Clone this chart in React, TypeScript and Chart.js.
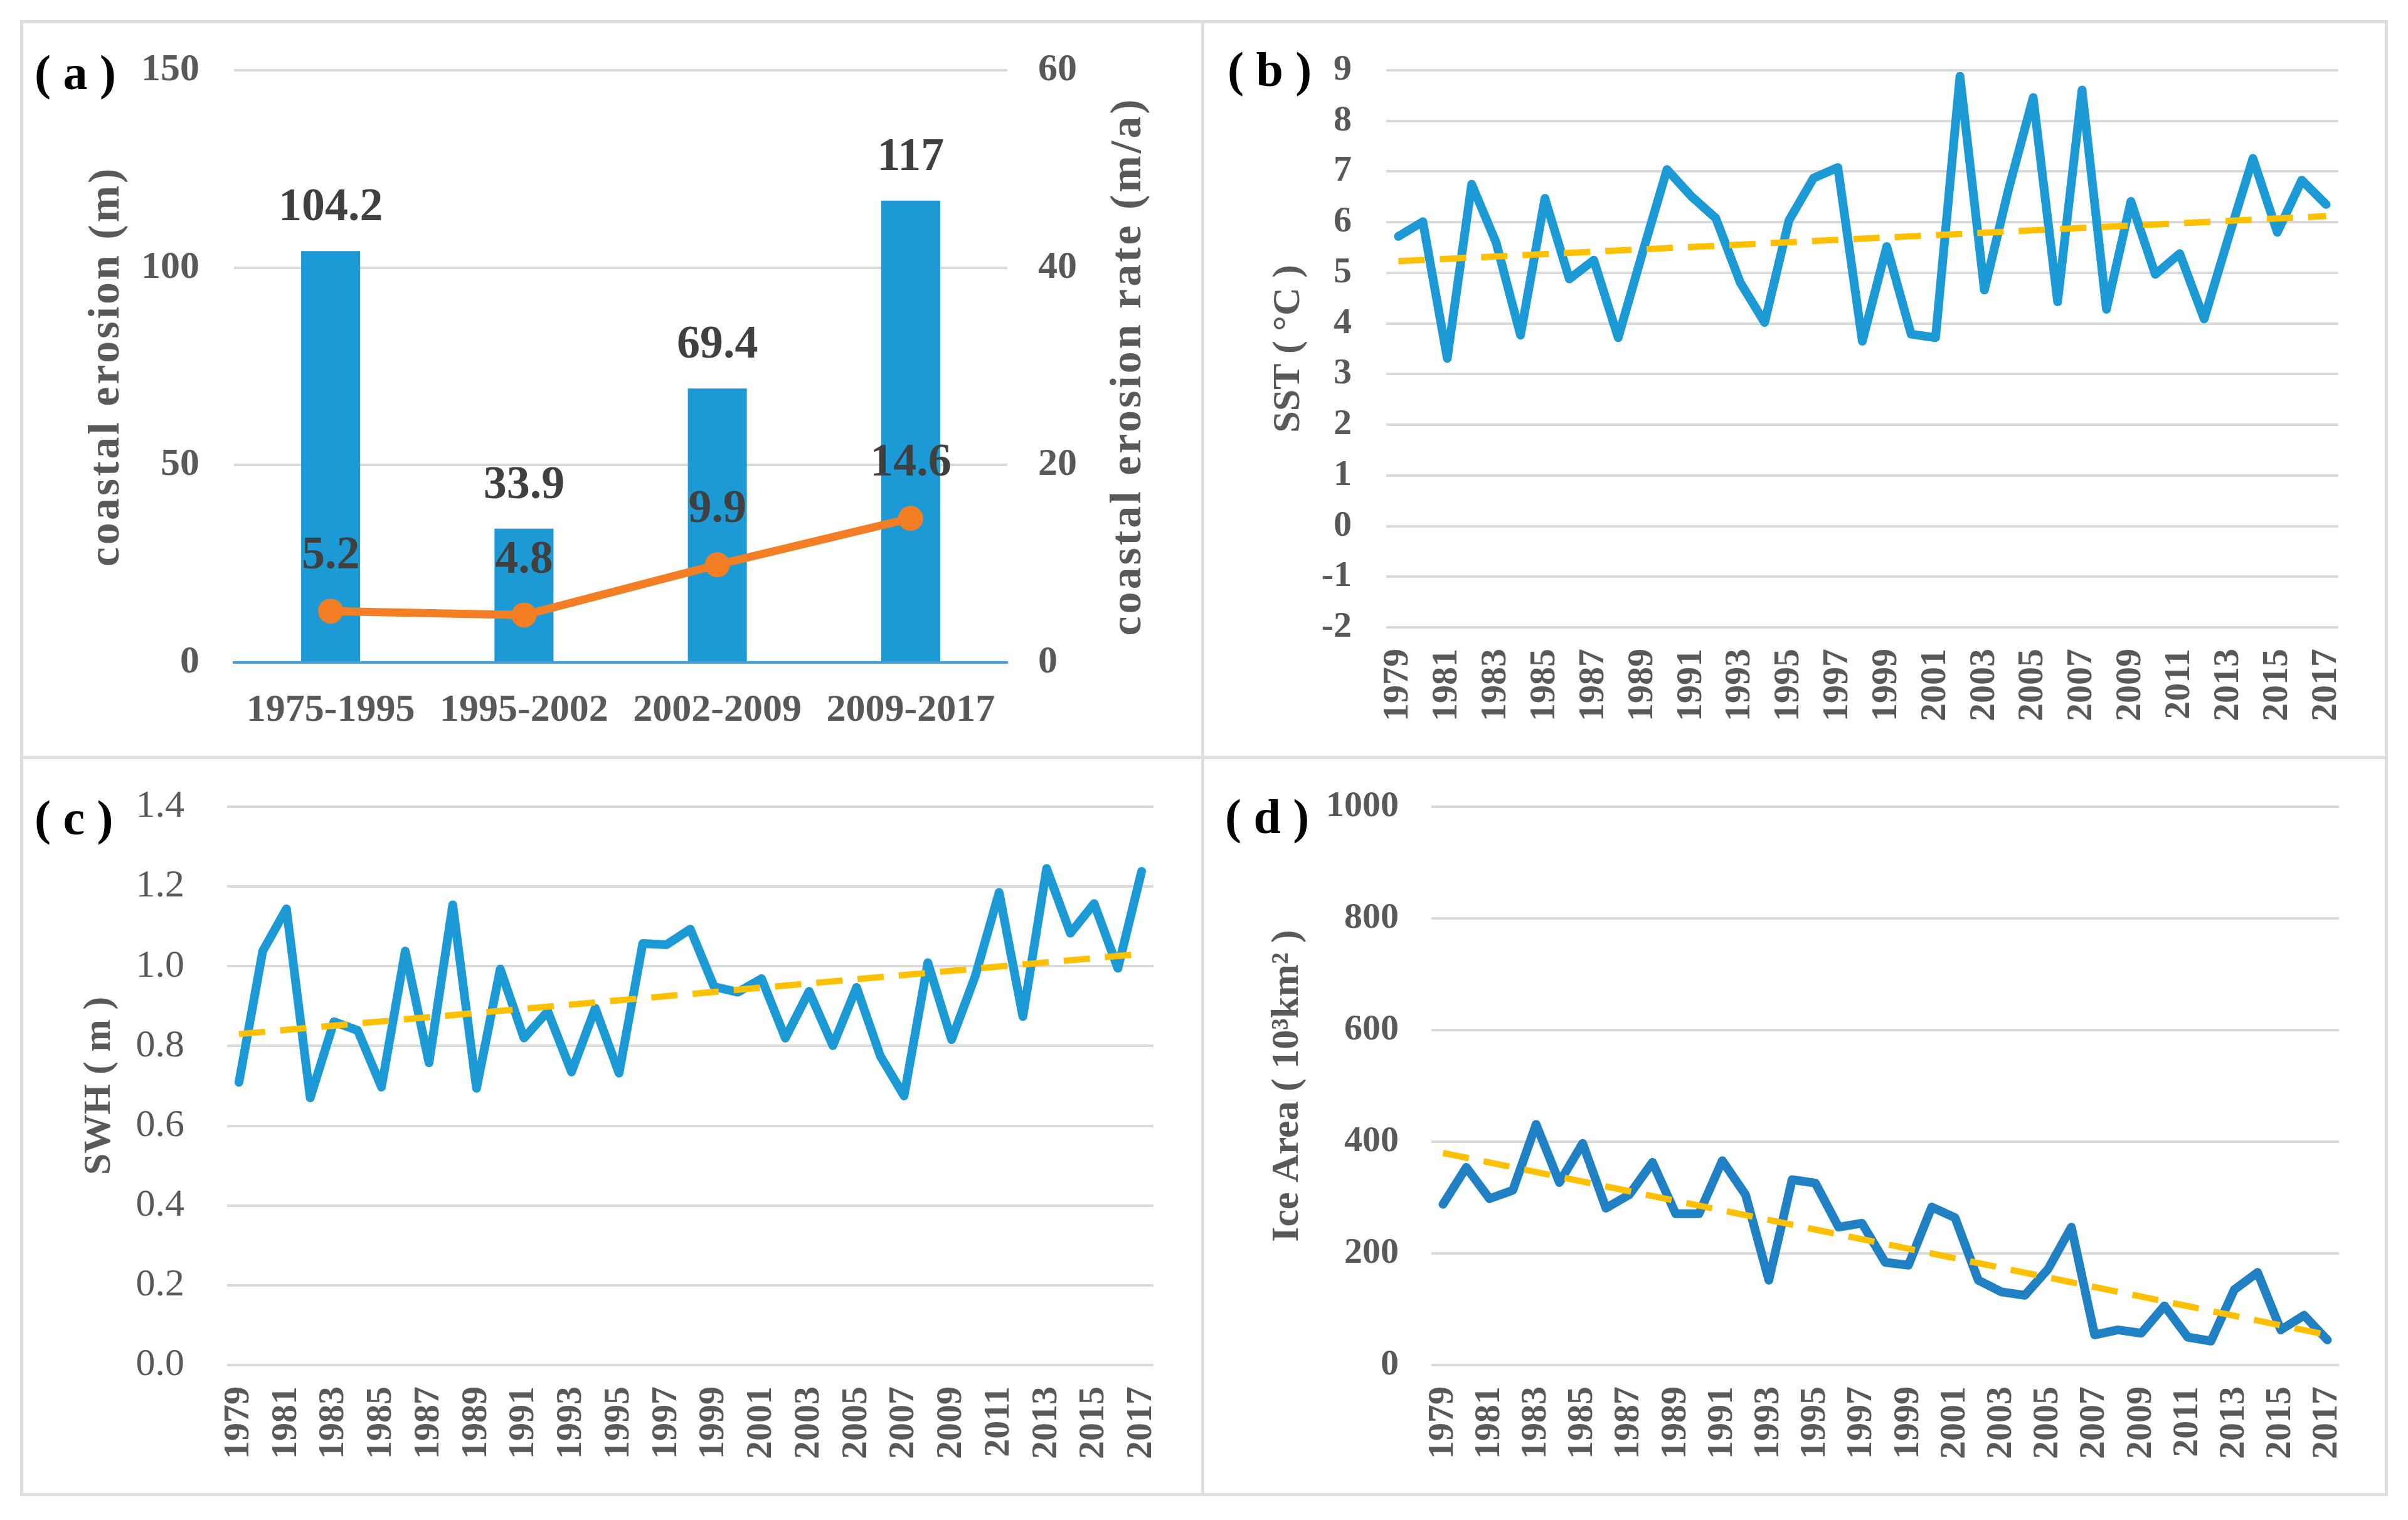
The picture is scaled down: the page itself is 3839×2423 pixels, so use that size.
import React, { useEffect, useRef } from 'react';
import { Chart, registerables } from 'chart.js';
Chart.register(...registerables);

// ---------- data ----------
const erosionPeriods = ['1975-1995', '1995-2002', '2002-2009', '2009-2017'];
const coastalErosion = [104.2, 33.9, 69.4, 117];
const erosionRate = [5.2, 4.8, 9.9, 14.6];

const years = ['1979', '1980', '1981', '1982', '1983', '1984', '1985', '1986', '1987', '1988',
  '1989', '1990', '1991', '1992', '1993', '1994', '1995', '1996', '1997', '1998',
  '1999', '2000', '2001', '2002', '2003', '2004', '2005', '2006', '2007', '2008',
  '2009', '2010', '2011', '2012', '2013', '2014', '2015', '2016', '2017'];

const sst = [5.72, 6.01, 3.31, 6.75, 5.6, 3.77, 6.47, 4.88, 5.25, 3.72,
  5.4, 7.04, 6.51, 6.08, 4.81, 4.02, 6.04, 6.87, 7.08, 3.65,
  5.52, 3.79, 3.72, 8.88, 4.66, 6.67, 8.46, 4.43, 8.61, 4.28,
  6.41, 4.97, 5.38, 4.09, 5.7, 7.26, 5.8, 6.83, 6.35];
const sstTrendEnds = [5.23, 6.12];
const sstTicks = { min: -2, max: 9, step: 1 };

const swh = [0.709, 1.038, 1.144, 0.67, 0.861, 0.839, 0.697, 1.038, 0.758, 1.154,
  0.694, 0.993, 0.82, 0.887, 0.735, 0.895, 0.732, 1.057, 1.054, 1.093,
  0.949, 0.935, 0.969, 0.82, 0.937, 0.801, 0.947, 0.775, 0.675, 1.009,
  0.816, 0.976, 1.185, 0.874, 1.245, 1.083, 1.157, 0.995, 1.238];
const swhTrendEnds = [0.83, 1.031];
const swhTicks = { min: 0, max: 1.4, step: 0.2 };

const iceArea = [288, 354, 298, 313, 431, 327, 397, 281, 305, 363,
  271, 271, 366, 305, 152, 332, 326, 247, 254, 184,
  179, 283, 264, 152, 131, 125, 172, 247, 54, 63,
  57, 106, 50, 43, 135, 166, 63, 89, 45];
const iceTrendEnds = [380, 54];
const iceTicks = { min: 0, max: 1000, step: 200 };

// ---------- styles ----------
const SERIF = '"Liberation Serif", "Times New Roman", serif';
const BLUE = '#1B9AD6';
const BLUE_D = '#1F80C4';
const ORANGE = '#F37E24';
const GOLD = '#FFC000';
const GRID = '#D9D9D9';
const TICK = '#595959';
const LABEL = '#404040';

type TextItem = { text: string; x: number; y: number | 'center'; rotate?: number; font: string; color: string; align?: CanvasTextAlign; spacing?: number };

function overlayPlugin(items: TextItem[]) {
  return {
    id: 'overlayText',
    afterDraw(chart: any) {
      const ctx = chart.ctx as CanvasRenderingContext2D;
      const ca = chart.chartArea;
      items.forEach((it) => {
        ctx.save();
        ctx.font = it.font;
        ctx.fillStyle = it.color;
        ctx.textAlign = it.align || 'center';
        ctx.textBaseline = 'middle';
        if (it.spacing) (ctx as any).letterSpacing = `${it.spacing}px`;
        const y = it.y === 'center' ? (ca.top + ca.bottom) / 2 : it.y;
        ctx.translate(it.x, y);
        if (it.rotate) ctx.rotate(it.rotate);
        ctx.fillText(it.text, 0, 0);
        ctx.restore();
      });
    },
  };
}

const valueLabelPlugin = {
  id: 'valueLabels',
  afterDatasetsDraw(chart: any) {
    const ctx = chart.ctx as CanvasRenderingContext2D;
    chart.data.datasets.forEach((ds: any, i: number) => {
      const meta = chart.getDatasetMeta(i);
      const off = ds.type === 'bar' ? 68 : 87;
      meta.data.forEach((el: any, j: number) => {
        ctx.save();
        ctx.font = `bold 74px ${SERIF}`;
        ctx.fillStyle = LABEL;
        ctx.textAlign = 'center';
        ctx.textBaseline = 'middle';
        ctx.fillText(String(ds.data[j]), el.x, el.y - off);
        ctx.restore();
      });
    });
  },
};

const fixV = (width: number) => (s: any) => { s.width = width; s.paddingTop = 0; s.paddingBottom = 0; };
const fixH = (height: number) => (s: any) => { s.height = height; s.paddingLeft = 0; s.paddingRight = 0; };

function yearAxis(height: number) {
  return {
    type: 'category' as const,
    offset: true,
    grid: { display: false, drawTicks: false },
    border: { display: false },
    ticks: {
      autoSkip: false,
      maxRotation: 90,
      minRotation: 90,
      padding: 34,
      color: TICK,
      font: { family: SERIF, size: 58, weight: 'bold' as const },
      callback: (_v: any, i: number) => (i % 2 === 0 ? years[i] : ''),
    },
    afterFit: fixH(height),
  };
}

function valueAxis(t: { min: number; max: number; step: number }, width: number, pad: number, bold: boolean, fmt?: (v: number) => string) {
  return {
    min: t.min,
    max: t.max,
    grid: { color: GRID, lineWidth: 4, drawTicks: false },
    border: { display: false },
    ticks: {
      stepSize: t.step,
      padding: pad,
      color: TICK,
      font: { family: SERIF, size: bold ? 58 : 62, weight: bold ? ('bold' as const) : ('normal' as const) },
      callback: fmt ? (v: any) => fmt(Number(v)) : undefined,
    },
    afterFit: fixV(width),
  };
}

function seriesConfig(opts: {
  values: number[]; trend: number[]; color: string; ticks: { min: number; max: number; step: number };
  yWidth: number; yPad: number; xHeight: number; top: number; right: number; boldY: boolean;
  fmt?: (v: number) => string; title: string; titleX: number; tag: string; tagX: number; tagY: number;
}) {
  return {
    type: 'line' as const,
    data: {
      labels: years,
      datasets: [
        {
          data: opts.values,
          borderColor: opts.color,
          borderWidth: 14,
          pointRadius: 0,
          tension: 0,
          borderJoinStyle: 'round' as const,
          borderCapStyle: 'round' as const,
          order: 1,
        },
        {
          data: [{ x: years[0], y: opts.trend[0] }, { x: years[years.length - 1], y: opts.trend[1] }],
          borderColor: GOLD,
          borderWidth: 10,
          borderDash: [42, 24],
          pointRadius: 0,
          tension: 0,
          order: 0,
        },
      ],
    },
    options: {
      animation: false as const,
      responsive: false,
      devicePixelRatio: 1,
      layout: { padding: { top: opts.top, right: opts.right, left: 0, bottom: 0 } },
      plugins: { legend: { display: false }, tooltip: { enabled: false } },
      scales: {
        x: yearAxis(opts.xHeight),
        y: valueAxis(opts.ticks, opts.yWidth, opts.yPad, opts.boldY, opts.fmt),
      },
    },
    plugins: [overlayPlugin([
      { text: opts.title, x: opts.titleX, y: 'center', rotate: -Math.PI / 2, font: `bold 62px ${SERIF}`, color: TICK },
      { text: opts.tag, x: opts.tagX, y: opts.tagY, font: `bold 78px ${SERIF}`, color: '#000', align: 'left' },
    ])],
  };
}

function configA() {
  return {
    type: 'bar' as const,
    data: {
      labels: erosionPeriods,
      datasets: [
        {
          type: 'bar' as const,
          data: coastalErosion,
          backgroundColor: BLUE,
          barPercentage: 0.305,
          categoryPercentage: 1,
          yAxisID: 'y',
          order: 1,
        },
        {
          type: 'line' as const,
          data: erosionRate,
          borderColor: ORANGE,
          backgroundColor: ORANGE,
          borderWidth: 13,
          pointRadius: 20,
          pointBackgroundColor: ORANGE,
          pointBorderWidth: 0,
          tension: 0,
          yAxisID: 'y1',
          order: 0,
        },
      ],
    },
    options: {
      animation: false as const,
      responsive: false,
      devicePixelRatio: 1,
      layout: { padding: { top: 75, right: 0, left: 0, bottom: 0 } },
      plugins: { legend: { display: false }, tooltip: { enabled: false } },
      scales: {
        x: {
          grid: { display: false, drawTicks: false },
          border: { display: true, color: '#3FA2DC', width: 4 },
          ticks: { padding: 40, color: TICK, font: { family: SERIF, size: 62, weight: 'bold' as const } },
          afterFit: fixH(149),
        },
        y: {
          position: 'left' as const,
          min: 0, max: 150,
          grid: { color: GRID, lineWidth: 4, drawTicks: false },
          border: { display: false },
          ticks: { stepSize: 50, padding: 55, color: TICK, font: { family: SERIF, size: 62, weight: 'bold' as const } },
          afterFit: fixV(336),
        },
        y1: {
          position: 'right' as const,
          min: 0, max: 60,
          grid: { display: false, drawOnChartArea: false, drawTicks: false },
          border: { display: false },
          ticks: { stepSize: 20, padding: 49, color: TICK, font: { family: SERIF, size: 62, weight: 'bold' as const } },
          afterFit: fixV(309),
        },
      },
    },
    plugins: [valueLabelPlugin, overlayPlugin([
      { text: 'coastal erosion (m)', x: 134, y: 'center', rotate: -Math.PI / 2, font: `bold 70px ${SERIF}`, color: TICK, spacing: 4 },
      { text: 'coastal erosion rate (m/a)', x: 1763, y: 'center', rotate: -Math.PI / 2, font: `bold 70px ${SERIF}`, color: TICK, spacing: 4 },
      { text: '( a )', x: 18, y: 85, font: `bold 78px ${SERIF}`, color: '#000', align: 'left' },
    ])],
  };
}

function ChartPanel({ left, top, width, height, build }: { left: number; top: number; width: number; height: number; build: () => any }) {
  const ref = useRef<HTMLCanvasElement | null>(null);
  useEffect(() => {
    if (!ref.current) return;
    const chart = new Chart(ref.current, build());
    return () => chart.destroy();
  }, []);
  return (
    <div style={{ position: 'absolute', left, top, width, height }}>
      <canvas ref={ref} width={width} height={height} style={{ width, height, display: 'block' }} />
    </div>
  );
}

export default function App() {
  const line = '#DEDEDE';
  return (
    <div style={{ position: 'absolute', left: 0, top: 0, width: 3839, height: 2423, background: '#fff', overflow: 'hidden' }}>
      <div style={{ position: 'absolute', left: 32, top: 32, width: 3775, height: 2353, border: `5px solid ${line}`, boxSizing: 'border-box' }} />
      <div style={{ position: 'absolute', left: 1915, top: 32, width: 5, height: 2353, background: line }} />
      <div style={{ position: 'absolute', left: 32, top: 1205, width: 3775, height: 5, background: line }} />
      <ChartPanel left={37} top={37} width={1878} height={1168} build={configA} />
      <ChartPanel left={1920} top={37} width={1882} height={1168} build={() => seriesConfig({
        values: sst, trend: sstTrendEnds, color: BLUE, ticks: sstTicks,
        yWidth: 290, yPad: 55, xHeight: 205, top: 75, right: 74, boldY: true,
        title: 'SST ( °C )', titleX: 135, tag: '( b )', tagX: 37, tagY: 80,
      })} />
      <ChartPanel left={37} top={1210} width={1878} height={1170} build={() => seriesConfig({
        values: swh, trend: swhTrendEnds, color: BLUE, ticks: swhTicks,
        yWidth: 325, yPad: 68, xHeight: 204, top: 76, right: 76, boldY: false,
        fmt: (v) => v.toFixed(1),
        title: 'SWH ( m )', titleX: 122, tag: '( c )', tagX: 18, tagY: 100,
      })} />
      <ChartPanel left={1920} top={1210} width={1882} height={1170} build={() => seriesConfig({
        values: iceArea, trend: iceTrendEnds, color: BLUE_D, ticks: iceTicks,
        yWidth: 362, yPad: 52, xHeight: 204, top: 76, right: 73, boldY: true,
        title: 'Ice Area ( 10³km² )', titleX: 133, tag: '( d )', tagX: 33, tagY: 98,
      })} />
    </div>
  );
}
